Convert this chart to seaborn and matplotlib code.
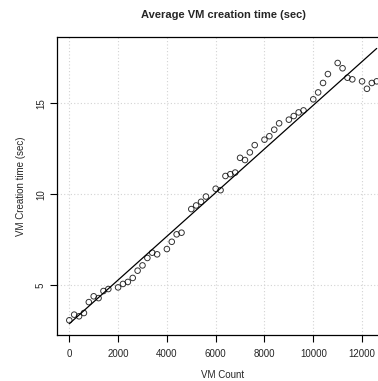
import matplotlib
matplotlib.use("Agg")
import matplotlib.pyplot as plt
import seaborn as sns
import pandas as pd

vm_count = [0, 200, 400, 600, 800, 1000, 1200, 1400, 1600, 2000, 2200, 2400, 2600,
            2800, 3000, 3200, 3400, 3600, 4000, 4200, 4400, 4600, 5000, 5200, 5400,
            5600, 6000, 6200, 6400, 6600, 6800, 7000, 7200, 7400, 7600, 8000, 8200,
            8400, 8600, 9000, 9200, 9400, 9600, 10000, 10200, 10400, 10600, 11000,
            11200, 11400, 11600, 12000, 12200, 12400, 12600]
creation_time = [3.06, 3.37, 3.28, 3.46, 4.06, 4.38, 4.28, 4.67, 4.78, 4.87, 5.06, 5.17,
                 5.39, 5.79, 6.08, 6.49, 6.78, 6.69, 6.98, 7.38, 7.79, 7.88, 9.18, 9.38,
                 9.58, 9.87, 10.30, 10.22, 11.00, 11.10, 11.19, 12.00, 11.88, 12.30,
                 12.70, 13.00, 13.19, 13.55, 13.90, 14.10, 14.30, 14.50, 14.61, 15.22,
                 15.60, 16.12, 16.61, 17.22, 16.93, 16.41, 16.32, 16.21, 15.80, 16.12,
                 16.21]
x_ticks = [0, 2000, 4000, 6000, 8000, 10000, 12000]
y_ticks = [5, 10, 15]

df = pd.DataFrame({"VM Count": vm_count, "time": creation_time})

sns.set_style("white")
plt.rcParams["font.family"] = ["Liberation Sans", "DejaVu Sans"]

W, H = 378, 381
fig = plt.figure(figsize=(W / 100, H / 100), dpi=100)
ax = fig.add_axes([57 / W, 46 / H, 332 / W, 298 / H])

sns.regplot(data=df, x="VM Count", y="time", ci=None, ax=ax, truncate=True,
            scatter_kws=dict(facecolors="none", edgecolors="black", s=16,
                             linewidths=0.7, zorder=3),
            line_kws=dict(color="black", lw=0.9, zorder=2))

ax.set_xlim(-504, 13104)
ax.set_ylim(2.25, 18.65)
ax.set_xticks(x_ticks)
ax.set_yticks(y_ticks)
ax.set_xticklabels([str(v) for v in x_ticks], fontsize=7)
ax.set_yticklabels([str(v) for v in y_ticks], fontsize=7, rotation=90, va="center")
ax.tick_params(axis="both", direction="out", length=5, width=0.8, color="black",
               bottom=True, left=True)
ax.tick_params(axis="x", pad=5)
ax.tick_params(axis="y", pad=3)
ax.grid(True, color="#d3d3d3", linestyle=(0, (1, 2)), linewidth=0.8)
ax.set_axisbelow(True)
for s in ["left", "top", "bottom"]:
    ax.spines[s].set_color("black")
    ax.spines[s].set_linewidth(0.9)
ax.spines["right"].set_visible(False)

ax.set_xlabel("VM Count", fontsize=7, labelpad=8)
ax.set_ylabel("VM Creation time (sec)", fontsize=7, labelpad=7)
fig.text(223.5 / W, 1 - 14.5 / H, "Average VM creation time (sec)", ha="center",
         va="center", fontsize=8, fontweight="bold")

fig.savefig("out.png", dpi=100)
